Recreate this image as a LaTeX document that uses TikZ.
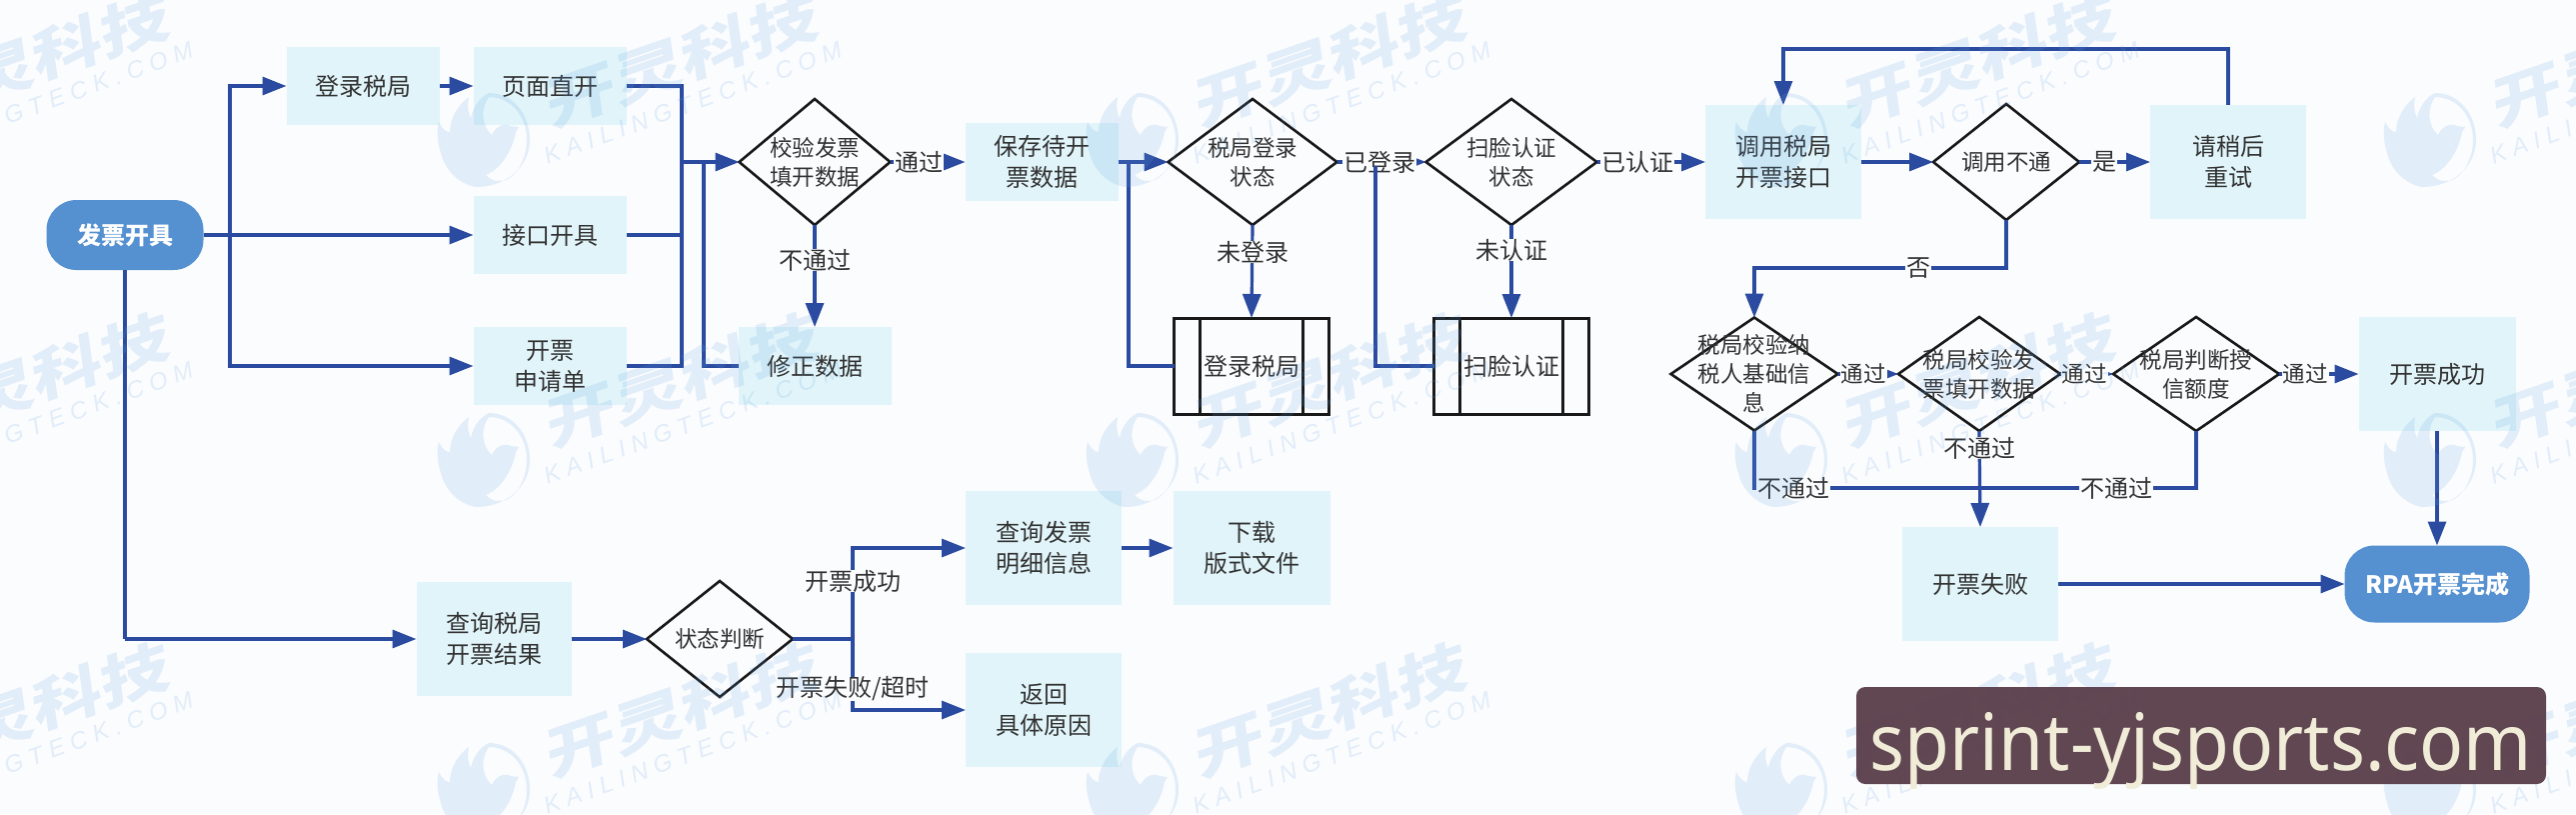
\documentclass[tikz,border=0pt]{standalone}
\usepackage{fontspec}
\setmainfont{Noto Sans CJK SC}
\newfontfamily\wmlatin[LetterSpace=28]{Liberation Sans}
\newfontfamily\wmcjk[FakeSlant=0.15]{Noto Sans CJK SC}
\newfontfamily\stampfont{Noto Sans}
\usetikzlibrary{shapes.geometric,arrows.meta,calc}
\definecolor{bgc}{HTML}{FBFCFE}
\definecolor{boxc}{HTML}{E0F4F9}
\definecolor{linec}{HTML}{2B4BA0}
\definecolor{startc}{HTML}{5590D0}
\definecolor{txtc}{HTML}{333333}
\definecolor{wmc}{HTML}{5FA0E0}
\definecolor{stampc}{HTML}{5A404C}
\definecolor{stamptxt}{HTML}{F0ECD8}
\tikzset{
  every node/.style={font=\fontsize{24}{31}\selectfont,text=txtc,align=center,inner sep=0pt,outer sep=0pt},
  box/.style={rectangle,fill=boxc,minimum width=#1},
  box/.default=156pt,
  h78/.style={minimum height=78pt},
  h114/.style={minimum height=114pt},
  term/.style={rectangle,rounded corners=30pt,fill=startc,text=white,font=\fontsize{24}{31}\selectfont\bfseries},
  dia/.style={diamond,draw=black!90,line width=2.6pt,shape aspect=1.2},
  subproc/.style={rectangle,draw=black!90,line width=3pt,minimum width=155pt,minimum height=96pt},
  arr/.style={draw=linec,line width=3.2pt,-{Triangle[length=24pt,width=18pt]}},
  lin/.style={draw=linec,line width=3.2pt},
  lab/.style={fill=bgc,inner xsep=1pt,inner ysep=0pt},
  labs/.style={lab,font=\fontsize{22.5}{29}\selectfont},
  every label/.style={align=center,font=\fontsize{22.5}{29}\selectfont,text=txtc}
}
\newcommand{\wmtile}[2]{%
  \begin{scope}[shift={(#1,#2)},opacity=.16]
    \fill[wmc,even odd rule]
      (-9,47) .. controls (-26,44) and (-40,30) .. (-44,13)
      .. controls (-48,0) and (-48,-10) .. (-46,-18)
      .. controls (-42,-10) and (-38,-8) .. (-35,-8)
      .. controls (-35,-22) and (-26,-36) .. (-16,-43)
      .. controls (-18,-32) and (-16,-26) .. (-14,-22)
      .. controls (-12,-32) and (-6,-42) .. (4,-47)
      .. controls (28,-47) and (45,-26) .. (45,0)
      .. controls (45,26) and (22,47) .. (-9,47) -- cycle
      (4,-43) .. controls (26,-43) and (42,-24) .. (42,0)
      .. controls (42,24) and (26,43) .. (14,41)
      .. controls (8,41) and (4,38) .. (1,35)
      .. controls (18,28) and (28,8) .. (31,-8)
      -- (34,-13) -- (26,-14)
      .. controls (18,-18) and (10,-12) .. (7,-5)
      .. controls (-4,-15) and (-4,-32) .. (4,-43) -- cycle;
    \node[rotate=19,text=wmc,font=\fontsize{56}{56}\wmcjk\bfseries] at (194,-79) {\scalebox{1.28}[1]{开灵科技}};
    \node[rotate=20,text=wmc,font=\fontsize{24}{24}\wmlatin\itshape] at (208,-37) {KAILINGTECK.COM};
  \end{scope}}
\begin{document}
\begin{tikzpicture}[x=1pt,y=-1pt]
\useasboundingbox (0,0) rectangle (2577,814);
\fill[bgc] (0,0) rectangle (2577,814);

% --- nodes
\node[term,minimum width=157pt,minimum height=70pt] (start) at (125,235) {发票开具};
\node[box=153pt,h78] (login) at (363,86) {登录税局};
\node[box=153pt,h78] (page) at (550,86) {页面直开};
\node[box=153pt,h78] (api) at (550,235) {接口开具};
\node[box=153pt,h78] (apply) at (550,366) {开票\\申请单};
\node[dia,minimum width=151pt,minimum height=126pt,label={center:校验发票\\填开数据}] (check) at (815,162) {};
\node[box=153pt,h78] (fix) at (815,366) {修正数据};
\node[box=153pt,h78] (save) at (1042,162) {保存待开\\票数据};
\node[dia,minimum width=169pt,minimum height=126pt,shape aspect=1.34,label={center:税局登录\\状态}] (lstate) at (1253,162) {};
\node[dia,minimum width=171pt,minimum height=126pt,shape aspect=1.36,label={center:扫脸认证\\状态}] (fstate) at (1512,162) {};
\node[subproc] (dologin) at (1252,366) {登录税局};
\node[subproc] (doface) at (1512,366) {扫脸认证};
\node[box=156pt,h114] (call) at (1784,162) {调用税局\\开票接口};
\node[dia,minimum width=146pt,minimum height=116pt,shape aspect=1.26,label={center:调用不通}] (cfail) at (2007,162) {};
\node[box=156pt,h114] (retry) at (2229,162) {请稍后\\重试};
\node[dia,minimum width=167pt,minimum height=113pt,shape aspect=1.48,label={center:税局校验纳\\税人基础信\\息}] (v1) at (1755,374) {};
\node[dia,minimum width=162pt,minimum height=114pt,shape aspect=1.42,label={center:税局校验发\\票填开数据}] (v2) at (1980,374) {};
\node[dia,minimum width=166pt,minimum height=114pt,shape aspect=1.46,label={center:税局判断授\\信额度}] (v3) at (2197,374) {};
\node[box=157pt,h114] (ok) at (2438,374) {开票成功};
\node[box=156pt,h114] (bad) at (1981,584) {开票失败};
\node[term,minimum width=185pt,minimum height=77pt] (done) at (2438,584) {RPA开票完成};
\node[box=155pt,h114] (query) at (494,639) {查询税局\\开票结果};
\node[dia,minimum width=146pt,minimum height=116pt,shape aspect=1.26,label={center:状态判断}] (qstate) at (720,639) {};
\node[box=156pt,h114] (detail) at (1044,548) {查询发票\\明细信息};
\node[box=157pt,h114] (down) at (1252,548) {下载\\版式文件};
\node[box=156pt,h114] (back) at (1044,710) {返回\\具体原因};

% --- subprocess inner bars
\draw[black!90,line width=3pt] ([xshift=26pt]dologin.north west) -- ([xshift=26pt]dologin.south west);
\draw[black!90,line width=3pt] ([xshift=-26pt]dologin.north east) -- ([xshift=-26pt]dologin.south east);
\draw[black!90,line width=3pt] ([xshift=26pt]doface.north west) -- ([xshift=26pt]doface.south west);
\draw[black!90,line width=3pt] ([xshift=-26pt]doface.north east) -- ([xshift=-26pt]doface.south east);

% --- helper coordinates
\coordinate (busA) at (230,235);
\coordinate (busB) at (682,162);
\coordinate (busC) at (704,162);
\coordinate (busD) at (1129,162);
\coordinate (busE) at (1376,166);
\coordinate (topL) at (2229,49);
\coordinate (noL) at (1755,268);
\coordinate (failL) at (1755,488);
\coordinate (failR) at (2197,488);
\coordinate (downT) at (125,639);
\coordinate (fork) at (853,639);

% --- connectors
\draw[arr] (start.east) -- (api.west);
\draw[arr] (busA) |- (login.west);
\draw[arr] (busA) |- (apply.west);
\draw[arr] (login.east) -- (page.west);
\draw[lin] (start.south) -- (downT);
\draw[arr] (downT) -- (query.west);
\draw[lin] (page.east) -| (busB);
\draw[lin] (api.east) -| (busB);
\draw[lin] (apply.east) -| (busB);
\draw[arr] (busB) -- (check.west);
\draw[lin] (fix.west) -| (busC);
\draw[arr] (check.east) -- (save.west);
\draw[arr] (check.south) -- (fix.north);
\draw[arr] (save.east) -- (lstate.west);
\draw[lin] (dologin.west) -| (busD);
\draw[arr] (lstate.south) -- (dologin.north);
\draw[arr] (lstate.east) -- (fstate.west);
\draw[arr] (fstate.south) -- (doface.north);
\draw[arr] (fstate.east) -- (call.west);
\draw[arr] (call.east) -- (cfail.west);
\draw[arr] (cfail.east) -- (retry.west);
\draw[arr] (retry.north) -- (topL) -| (call.north);
\draw[arr] (cfail.south) |- (noL) -- (v1.north);
\draw[arr] (v1.east) -- (v2.west);
\draw[arr] (v2.east) -- (v3.west);
\draw[arr] (v3.east) -- (ok.west);
\draw[lin] (v1.south) -- (failL) -- (failR) -- (v3.south);
\draw[arr] (v2.south) -- (bad.north);
\draw[arr] (ok.south) -- (done.north);
\draw[arr] (bad.east) -- (done.west);
\draw[arr] (query.east) -- (qstate.west);
\draw[lin] (qstate.east) -- (fork);
\draw[arr] (fork) |- (detail.west);
\draw[arr] (fork) |- (back.west);
\draw[arr] (detail.east) -- (down.west);

% --- connector labels
\node[lab] (t1) at (919,162) {通过};
\node[lab] (t2) at (815,260) {不通过};
\node[lab] (t3) at (1380,162) {已登录};
\node[lab] (t4) at (1253,252) {未登录};
\node[lab] (t5) at (1638,162) {已认证};
\node[lab] (t6) at (1512,250) {未认证};
\node[lab] (t7) at (2105,162) {是};
\node[lab] (t8) at (1919,268) {否};
\node[labs] (t9) at (1864,374) {通过};
\node[labs] (t10) at (2085,374) {通过};
\node[labs] (t11) at (2306,374) {通过};
\node[lab] (t12) at (1980,448) {不通过};
\node[lab] (t13) at (1794,488) {不通过};
\node[lab] (t14) at (2117,488) {不通过};
\node[lab] (t15) at (853,581) {开票成功};
\node[lab] (t16) at (853,689) {开票失败/超时};

% --- this return line runs over its label
\draw[lin] (doface.west) -| (busE);

% --- watermark tiles
\begin{scope}
\clip (0,0) rectangle (2577,814);
\foreach \wy in {140,460,790}
  \foreach \wx in {-164,485,1134,1783,2432}
    {\wmtile{\wx}{\wy}}
\end{scope}

% --- stamp
\node[fill=stampc,fill opacity=.96,text opacity=1,rounded corners=9pt,minimum width=690pt,minimum height=97pt,text=stamptxt,font=\fontsize{73}{73}\stampfont] (stamp) at (2202,735.5) {\smash{\raisebox{-34.5pt}{\scalebox{1}[1.08]{sprint-yjsports.com}}}};
\end{tikzpicture}
\end{document}
